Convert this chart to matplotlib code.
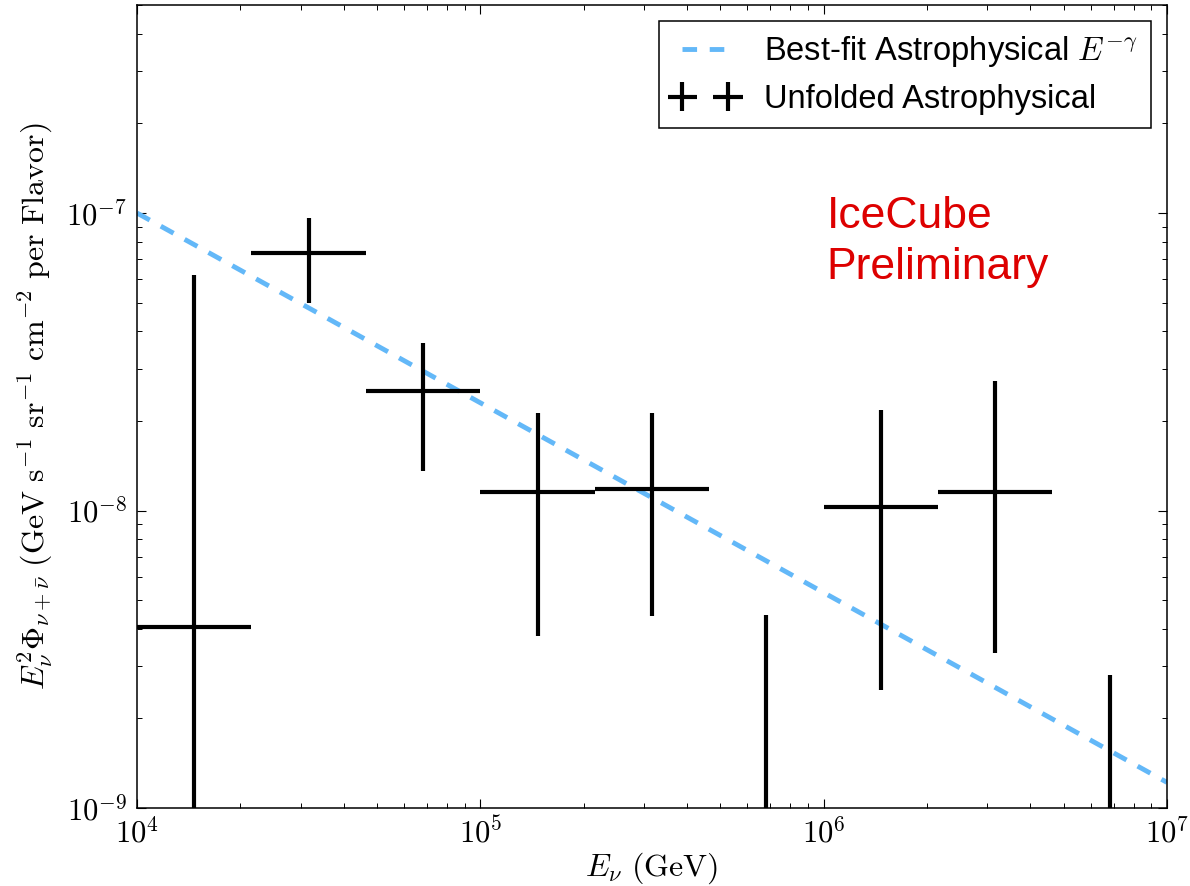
import numpy as np
import matplotlib
matplotlib.use("Agg")
import matplotlib.pyplot as plt
from matplotlib.ticker import FuncFormatter
from matplotlib.container import ErrorbarContainer
from matplotlib.legend_handler import HandlerErrorbar

# Unfolded astrophysical flux, 1/3-decade energy bins (GeV)
bin_center = [1.47e4, 3.16e4, 6.81e4, 1.47e5, 3.16e5, 6.81e5, 1.47e6, 3.16e6, 6.81e6]
bin_low = [1.0e4, 2.154e4, 4.642e4, 1.0e5, 2.154e5, 4.642e5, 1.0e6, 2.154e6, 4.642e6]
bin_high = [2.154e4, 4.642e4, 1.0e5, 2.154e5, 4.642e5, 1.0e6, 2.154e6, 4.642e6, 1.0e7]
flux = [4.06e-9, 7.35e-8, 2.52e-8, 1.15e-8, 1.18e-8, 5e-10, 1.03e-8, 1.15e-8, 5e-10]
flux_low = [1e-10, 5.0e-8, 1.36e-8, 3.78e-9, 4.42e-9, 1e-11, 2.49e-9, 3.32e-9, 1e-11]
flux_high = [6.19e-8, 9.6e-8, 3.66e-8, 2.13e-8, 2.13e-8, 4.45e-9, 2.18e-8, 2.72e-8, 2.8e-9]

fit_energy = [1e4, 1e7]
fit_flux = [1.0e-7, 1.22e-9]

plt.rcParams.update({
    'font.family': ['Liberation Sans', 'DejaVu Sans'],
    'mathtext.fontset': 'cm',
    'xtick.direction': 'in', 'ytick.direction': 'in',
    'xtick.top': True, 'ytick.right': True,
    'xtick.major.size': 6.5, 'ytick.major.size': 6.5,
    'xtick.minor.size': 3.6, 'ytick.minor.size': 3.6,
    'xtick.major.width': 0.8, 'ytick.major.width': 0.8,
    'xtick.minor.width': 0.7, 'ytick.minor.width': 0.7,
    'axes.linewidth': 1.1,
})

fig = plt.figure(figsize=(11.9, 8.86), dpi=100)
ax = fig.add_axes([0.1151, 0.0880, 0.8655, 0.9063])

x = np.array(bin_center)
y = np.array(flux)
xerr = [x - np.array(bin_low), np.array(bin_high) - x]
yerr = [y - np.array(flux_low), np.array(flux_high) - y]

ax.plot(fit_energy, fit_flux, color='#63b8f8', lw=3.5, dashes=(3.0, 2.6),
        label=r'Best-fit Astrophysical $E^{-\gamma}$')
ax.errorbar(x, y, xerr=xerr, yerr=yerr, fmt='none', ecolor='black',
            elinewidth=3, capsize=0, label='Unfolded Astrophysical')

ax.set_xscale('log')
ax.set_yscale('log')
ax.set_xlim(1e4, 1e7)
ax.set_ylim(1e-9, 5e-7)

fmt = FuncFormatter(lambda v, p: r'$10^{%d}$' % int(round(np.log10(v))))
ax.xaxis.set_major_formatter(fmt)
ax.yaxis.set_major_formatter(fmt)
ax.tick_params(axis='both', which='major', labelsize=22, pad=7)

ax.set_xlabel(r'$E_\nu\ \mathrm{(GeV)}$', fontsize=23, labelpad=0)
ax.set_ylabel(r'$E_\nu^2\Phi_{\nu+\bar{\nu}}\ \mathrm{(GeV\ s^{-1}\ sr^{-1}\ cm^{-2}\ per\ Flavor)}$',
              fontsize=23, labelpad=8)

ax.text(1.02e6, 8.9e-8, 'IceCube', color='#dd0000', fontsize=32, va='baseline')
ax.text(1.02e6, 6.0e-8, 'Preliminary', color='#dd0000', fontsize=32, va='baseline')

leg = ax.legend(loc='upper right', fontsize=23.5, numpoints=2, fancybox=False,
                edgecolor='black', framealpha=1, labelspacing=0.45,
                handler_map={ErrorbarContainer: HandlerErrorbar(xerr_size=0.45, numpoints=2)})
leg.get_frame().set_linewidth(1.1)

fig.savefig('out.png', dpi=100)
